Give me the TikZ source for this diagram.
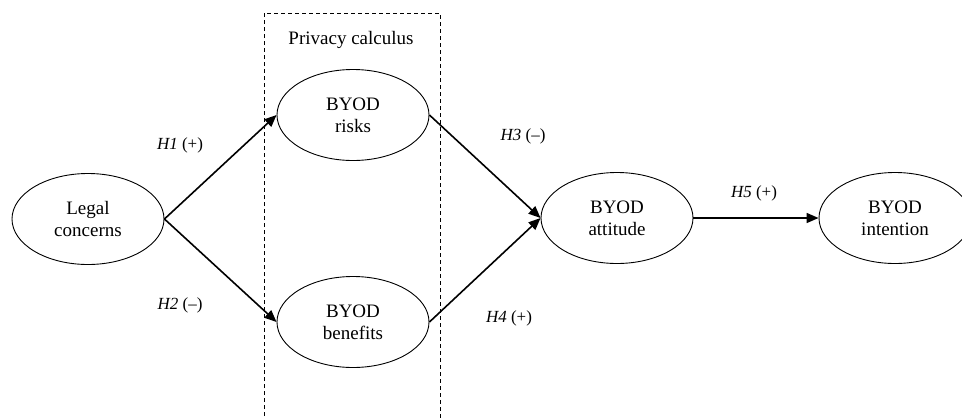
\documentclass[tikz,border=0pt]{standalone}
\usepackage{fontspec}
\setmainfont{Liberation Serif}
\usetikzlibrary{shapes.geometric,arrows.meta}
\begin{document}
\begin{tikzpicture}[x=1pt,y=-1pt,
  construct/.style={draw, ellipse, line width=0.9pt, minimum width=152pt, minimum height=91pt, inner sep=0pt, align=center, font=\fontsize{19}{22}\selectfont},
  hyp/.style={font=\fontsize{17}{20}\selectfont},
  link/.style={line width=1.6pt, -{Triangle[length=12pt,width=10pt]}}]
\useasboundingbox (0,0) rectangle (962,418);
\draw[dash pattern=on 4pt off 3pt, line width=0.8pt] (264,430) -- (264,13) -- (440,13) -- (440,430);
\node[font=\fontsize{19}{22}\selectfont] (pc) at (351,40) {Privacy calculus};
\node[construct] (legal) at (88,219) {Legal\\concerns};
\node[construct] (risks) at (353,115) {BYOD\\risks};
\node[construct] (ben) at (353,322) {BYOD\\benefits};
\node[construct] (att) at (617,218) {BYOD\\attitude};
\node[construct] (int) at (895,218) {BYOD\\intention};
\draw[link] (legal.east) -- (risks.west);
\draw[link] (legal.east) -- (ben.west);
\draw[link] (risks.east) -- (att.west);
\draw[link] (ben.east) -- (att.west);
\draw[link] (att.east) -- (int.west);
\node[hyp] (h1) at (180,145) {\textit{H1} (+)};
\node[hyp] (h2) at (180,305) {\textit{H2} (–)};
\node[hyp] (h3) at (523,136) {\textit{H3} (–)};
\node[hyp] (h4) at (509,318) {\textit{H4} (+)};
\node[hyp] (h5) at (754,193) {\textit{H5} (+)};
\end{tikzpicture}
\end{document}
